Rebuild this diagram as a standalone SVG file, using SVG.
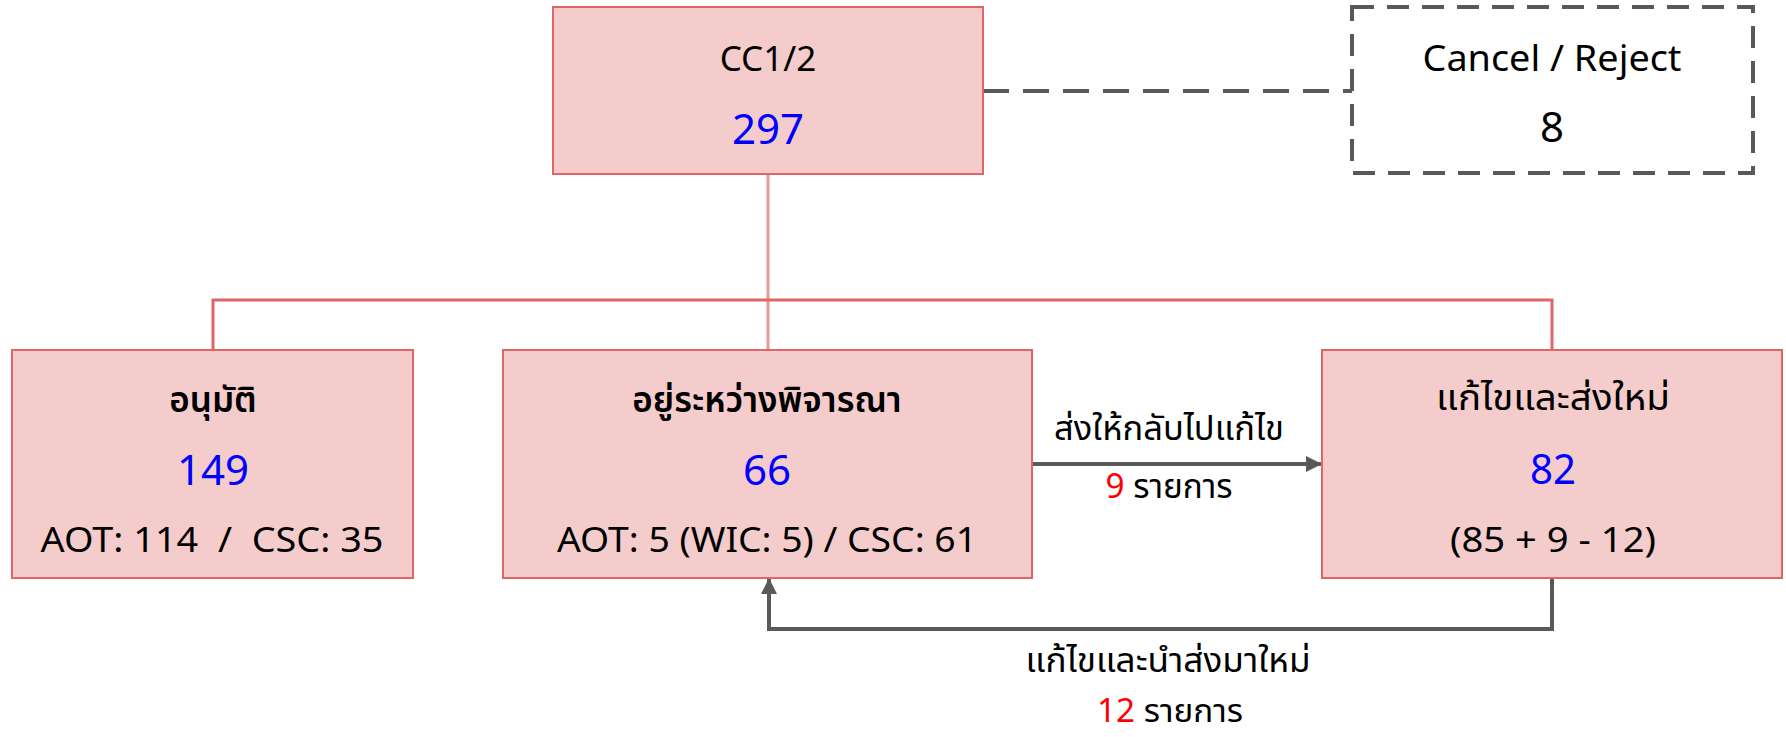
<svg xmlns="http://www.w3.org/2000/svg" width="1786" height="737" viewBox="0 0 1786 737">
<defs>
<marker id="arr" markerUnits="userSpaceOnUse" markerWidth="16" markerHeight="16" viewBox="0 0 16 16" refX="15" refY="8" orient="auto">
<path d="M0,0 L16,8 L0,16 Z" fill="#595959"/>
</marker>
<style>
.box{fill:#F4CCCC;stroke:#E06666;stroke-width:2}
.t{font-family:"Noto Sans","Noto Sans Thai","Liberation Sans",sans-serif;text-anchor:middle;fill:#000}
.th{font-family:"Noto Sans Thai","Noto Sans","Liberation Sans",sans-serif;text-anchor:middle;fill:#000}
.num{fill:#0000FF;font-size:42px}
.red{fill:#FF0000}
.b{font-weight:600}
</style>
</defs>
<g id="connectors" fill="none">
<line x1="768" y1="174" x2="768" y2="350" stroke="#EA9999" stroke-width="3"/>
<path d="M213,350 V300 H1552 V350" stroke="#E06666" stroke-width="3"/>
<line x1="983" y1="91" x2="1352" y2="91" stroke="#595959" stroke-width="4" stroke-dasharray="26 14"/>
<line x1="1032" y1="464" x2="1321" y2="464" stroke="#595959" stroke-width="4" marker-end="url(#arr)"/>
<path d="M1552,578 V629 H769 V579" stroke="#595959" stroke-width="4" marker-end="url(#arr)"/>
<text class="th" x="1169" y="440" font-size="34" textLength="230" lengthAdjust="spacingAndGlyphs">ส่งให้กลับไปแก้ไข</text>
<text class="th" x="1169" y="498" font-size="34" textLength="127" lengthAdjust="spacingAndGlyphs"><tspan class="red">9</tspan> รายการ</text>
<text class="th" x="1168" y="672" font-size="34" textLength="285" lengthAdjust="spacingAndGlyphs">แก้ไขและนำส่งมาใหม่</text>
<text class="th" x="1170" y="722" font-size="32" textLength="146" lengthAdjust="spacingAndGlyphs"><tspan class="red">12</tspan> รายการ</text>
</g>
<g id="cc12">
<rect class="box" x="553" y="7" width="430" height="167"/>
<text class="t" x="768" y="71" font-size="35">CC1/2</text>
<text class="t num" x="768" y="144">297</text>
</g>
<g id="cancel">
<rect x="1352" y="7" width="401" height="166" fill="#FFFFFF" stroke="#595959" stroke-width="4" stroke-dasharray="22 13"/>
<text class="t" x="1552" y="71" font-size="36" textLength="259" lengthAdjust="spacingAndGlyphs">Cancel / Reject</text>
<text class="t" x="1552" y="142" font-size="42">8</text>
</g>
<g id="approved">
<rect class="box" x="12" y="350" width="401" height="228"/>
<text class="th b" x="213" y="412" font-size="35">อนุมัติ</text>
<text class="t num" x="213" y="485">149</text>
<text class="t" x="212" y="552" font-size="34" textLength="343" lengthAdjust="spacingAndGlyphs" xml:space="preserve">AOT: 114  /  CSC: 35</text>
</g>
<g id="pending">
<rect class="box" x="503" y="350" width="529" height="228"/>
<text class="th b" x="767" y="412" font-size="35">อยู่ระหว่างพิจารณา</text>
<text class="t num" x="767" y="485">66</text>
<text class="t" x="767" y="552" font-size="34" textLength="420" lengthAdjust="spacingAndGlyphs">AOT: 5 (WIC: 5) / CSC: 61</text>
</g>
<g id="resubmit">
<rect class="box" x="1322" y="350" width="460" height="228"/>
<text class="th" x="1553" y="410" font-size="36" textLength="234" lengthAdjust="spacingAndGlyphs">แก้ไขและส่งใหม่</text>
<text class="th num" x="1553" y="484" font-size="42" textLength="46" lengthAdjust="spacingAndGlyphs">82</text>
<text class="th" x="1553" y="552" font-size="34" textLength="206" lengthAdjust="spacingAndGlyphs">(85 + 9 - 12)</text>
</g>
</svg>
